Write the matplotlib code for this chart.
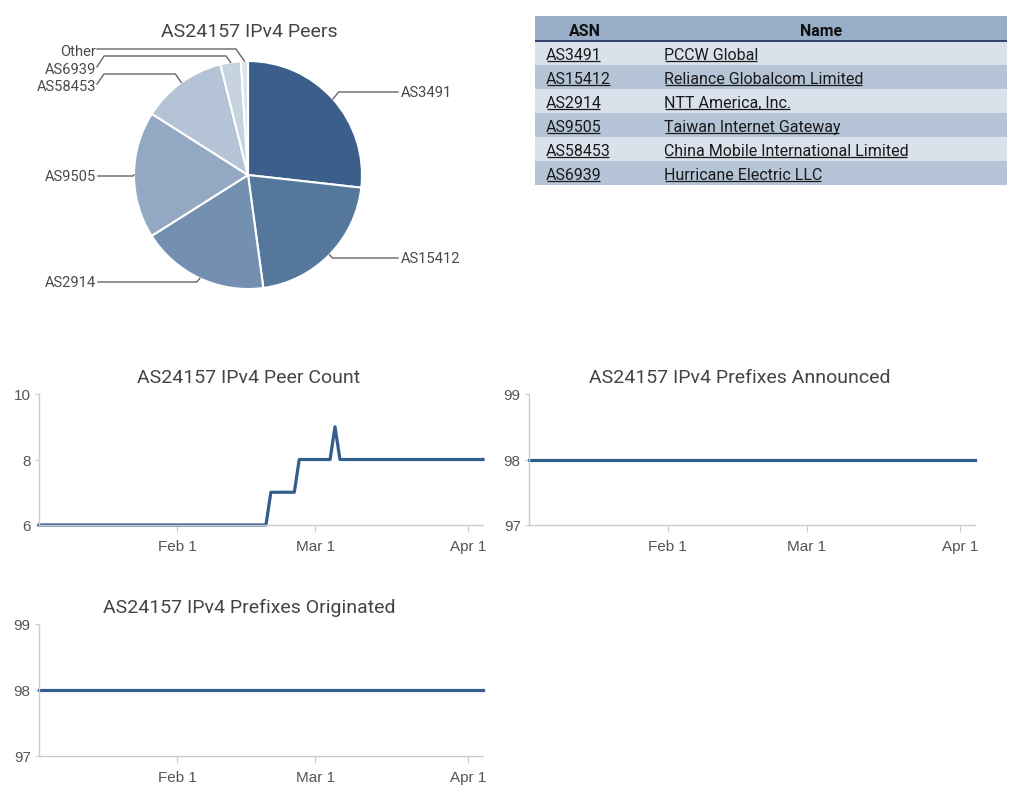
import matplotlib
matplotlib.use("Agg")
import matplotlib.pyplot as plt
import matplotlib.dates as mdates
from matplotlib.lines import Line2D
from matplotlib.patches import Rectangle
from matplotlib.ticker import FuncFormatter
import numpy as np
import pandas as pd

plt.rcParams["font.family"] = ["Roboto", "DejaVu Sans"]

# pie data (share of peers)
pie_labels = ["AS3491", "AS15412", "AS2914", "AS9505", "AS58453", "AS6939", "Other"]
pie_values = [26.8, 21.1, 18.2, 18.0, 12.1, 2.9, 1.0]
pie_colors = ["#3b5f8a", "#56779c", "#7490b0", "#93a8c2", "#b4c3d5", "#c8d3e0", "#dbe3ec"]

# table
table_asn = ["AS3491", "AS15412", "AS2914", "AS9505", "AS58453", "AS6939"]
table_names = ["PCCW Global", "Reliance Globalcom Limited", "NTT America, Inc.",
               "Taiwan Internet Gateway", "China Mobile International Limited",
               "Hurricane Electric LLC"]

# time series
peer_dates = ["2025-01-04 00:00", "2025-02-19 00:00", "2025-02-20 00:00", "2025-02-24 18:00",
              "2025-02-25 18:00", "2025-03-04 00:00", "2025-03-05 00:00", "2025-03-06 00:00",
              "2025-04-04 00:00"]
peer_values = [6, 6, 7, 7, 8, 8, 9, 8, 8]
announced_dates = ["2025-01-04 00:00", "2025-04-04 00:00"]
announced_values = [98, 98]
originated_dates = ["2025-01-04 00:00", "2025-04-04 00:00"]
originated_values = [98, 98]

W, H = 1016, 803
LINE = "#335d8c"
TITLE_C = "#444444"
TICK_C = "#555555"
AXIS_C = "#cccccc"

fig = plt.figure(figsize=(W / 100, H / 100), dpi=100)


def px_axes(left, top, right, bottom):
    return fig.add_axes([left / W, 1 - bottom / H, (right - left) / W, (bottom - top) / H])


# ---------------- pie ----------------
cx, cy, R = 248, 176, 114
pax = px_axes(0, 40, 496, 310)
pax.axis("off")
wedges, _ = pax.pie(pie_values, colors=pie_colors, startangle=90, counterclock=False,
                    radius=1, wedgeprops=dict(edgecolor="white", linewidth=1.5))
pax.set_aspect("auto")
pax.set_xlim(-cx / R, (496 - cx) / R)
pax.set_ylim(-(310 - cy) / R, (cy - 40) / R)
fig.text(249 / W, 1 - 32 / H, "AS24157 IPv4 Peers", ha="center", va="center",
         fontsize=14, color=TITLE_C)


def to_d(px, py):
    return (px - cx) / R, (cy - py) / R


# label layout in pixels: (side, text x, text y, elbow y)
label_layout = {
    "AS3491": ("r", 401, 93, None),
    "AS15412": ("r", 401, 259, None),
    "AS2914": ("l", 96, 283, None),
    "AS9505": ("l", 96, 177, None),
    "AS58453": ("l", 96, 87, 75),
    "AS6939": ("l", 96, 70, 57),
    "Other": ("l", 96, 52, 50),
}
for w, lab in zip(wedges, pie_labels):
    mid = np.deg2rad((w.theta1 + w.theta2) / 2)
    p = (np.cos(mid), np.sin(mid))
    side, tx, ty, ey = label_layout[lab]
    tdx, tdy = to_d(tx, ty)
    if side == "r":
        elbow = (p[0] + abs(tdy - p[1]) * 0.8, tdy)
        xs = [p[0], elbow[0], to_d(tx - 3, 0)[0]]
        ys = [p[1], tdy, tdy]
    elif ey is None:
        elbow = (p[0] - abs(tdy - p[1]) * 0.8, tdy)
        xs = [p[0], elbow[0], to_d(tx + 2, 0)[0]]
        ys = [p[1], tdy, tdy]
    else:
        edy = to_d(0, ey)[1]
        xs = [p[0], p[0] - abs(edy - p[1]) * 0.7, to_d(tx + 8, 0)[0], to_d(tx + 1, 0)[0]]
        ys = [p[1], edy, edy, to_d(0, ty - 2)[1]]
    pax.plot(xs, ys, color="#666666", lw=1, clip_on=False)
    pax.text(tdx, tdy, lab, ha="left" if side == "r" else "right", va="center",
             fontsize=10.6, color="#4a4a4a")

# ---------------- table ----------------
tl, tt, tr, tb = 535, 17, 1007, 187
head_h, row_h = 25, 24
tax = px_axes(tl, tt, tr, tb)
tax.set_xlim(0, tr - tl)
tax.set_ylim(tb - tt, 0)
tax.axis("off")
col2 = 635 - tl
tax.add_patch(Rectangle((0, 0), tr - tl, head_h, facecolor="#98aec8", edgecolor="none"))
for i in range(len(table_asn)):
    c = "#d9e1ea" if i % 2 == 0 else "#b5c5d7"
    tax.add_patch(Rectangle((0, head_h + i * row_h), tr - tl, row_h, facecolor=c,
                            edgecolor="none"))
tax.plot([0, tr - tl], [head_h, head_h], color="#1c2a55", lw=1.2)
tax.text(col2 / 2, head_h / 2 + 2, "ASN", ha="center", va="center", fontsize=11.5,
         fontweight="bold", color="#111111")
tax.text((col2 + tr - tl) / 2, head_h / 2 + 2, "Name", ha="center", va="center",
         fontsize=11.5, fontweight="bold", color="#111111")
cell_texts = []
for i, (asn, name) in enumerate(zip(table_asn, table_names)):
    y = head_h + i * row_h + row_h / 2 + 6
    cell_texts.append(tax.text(546 - tl, y, asn, ha="left", va="baseline",
                               fontsize=11.5, color="#1a1a1a"))
    cell_texts.append(tax.text(664 - tl, y, name, ha="left", va="baseline",
                               fontsize=11.5, color="#1a1a1a"))


# ---------------- line charts ----------------
x_start = pd.Timestamp("2025-01-04")
x_end = pd.Timestamp("2025-04-04")


def line_chart(box, dates, values, yticks, title, title_y):
    ax = px_axes(*box)
    ax.plot(pd.to_datetime(dates, format="%Y-%m-%d %H:%M"), values, color=LINE, lw=2.3,
            clip_on=False, solid_joinstyle="round")
    ax.set_xlim(x_start, x_end)
    ax.set_ylim(yticks[0], yticks[-1])
    ax.set_yticks(yticks)
    ax.xaxis.set_major_locator(mdates.MonthLocator(bymonthday=1))
    ax.xaxis.set_major_formatter(FuncFormatter(
        lambda v, pos: "{:%b} {}".format(mdates.num2date(v), mdates.num2date(v).day)))
    for s in ["top", "right"]:
        ax.spines[s].set_visible(False)
    for s in ["left", "bottom"]:
        ax.spines[s].set_color(AXIS_C)
        ax.spines[s].set_linewidth(1)
    ax.tick_params(axis="x", length=5, pad=5, color=AXIS_C, labelcolor=TICK_C)
    ax.tick_params(axis="y", length=3, pad=3, color=AXIS_C, labelcolor=TICK_C)
    for lbl in ax.get_xticklabels() + ax.get_yticklabels():
        lbl.set_fontfamily(["Liberation Sans", "DejaVu Sans"])
        lbl.set_fontsize(11)
    fig.text(((box[0] + box[2]) / 2 - 12) / W, 1 - (title_y + 2) / H, title, ha="center",
             va="center", fontsize=14, color=TITLE_C)
    return ax


line_chart((39, 395, 483, 526), peer_dates, peer_values, [6, 8, 10],
           "AS24157 IPv4 Peer Count", 376)
line_chart((529, 395, 975, 526), announced_dates, announced_values, [97, 98, 99],
           "AS24157 IPv4 Prefixes Announced", 376)
line_chart((39, 625, 483, 757), originated_dates, originated_values, [97, 98, 99],
           "AS24157 IPv4 Prefixes Originated", 606)

# underline the table links
fig.canvas.draw()
renderer = fig.canvas.get_renderer()
for t in cell_texts:
    bb = t.get_window_extent(renderer)
    y = bb.y0 + 1.5
    fig.add_artist(Line2D([(bb.x0 + 0.5) / W, (bb.x1 - 1.5) / W], [y / H, y / H],
                          color="#1a1a1a", lw=0.9, solid_capstyle="butt"))

fig.savefig("out.png", dpi=100)
